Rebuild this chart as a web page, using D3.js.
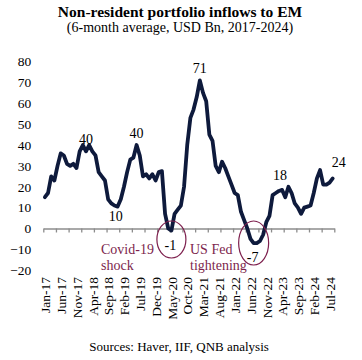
<!DOCTYPE html>
<html>
<head>
<meta charset="utf-8">
<script src="https://cdn.jsdelivr.net/npm/d3@7"></script>
<style>
  body { margin: 0; background: #fff; }
  svg text { font-family: "Liberation Serif", "Times New Roman", serif; }
</style>
</head>
<body>
<div id="chart"></div>
<script>
// monthly values, Jan-17 .. Aug-24 (USD Bn, 6-month avg)
var inflows = [
  15, 17, 25, 23, 30, 36, 35, 31, 30, 31, 29, 37,
  40, 37, 40, 37, 35, 27, 25, 23, 14, 12, 11, 10.5,
  14, 20, 27, 33, 34, 40, 35, 25, 26, 24, 26, 23,
  27, 27.5, 7, 0, -1, 7, 9, 11, 20, 40, 53, 57,
  63, 71, 65, 61, 45, 42, 30, 27, 32, 29, 25, 21,
  17, 16, 8, 4, 0, -5, -7, -7, -6, -3, 3, 6,
  16, 17, 18, 18.5, 15, 20, 17, 12, 10, 7, 10, 10.5,
  11, 17, 24, 28, 21, 21, 22, 24
];
var xLabels = ["Jan-17", "Jun-17", "Nov-17", "Apr-18", "Sep-18", "Feb-19", "Jul-19",
  "Dec-19", "May-20", "Oct-20", "Mar-21", "Aug-21", "Jan-22", "Jun-22", "Nov-22",
  "Apr-23", "Sep-23", "Feb-24", "Jul-24"];
var yTicks = [-20, -10, 0, 10, 20, 30, 40, 50, 60, 70, 80];
// labelled points: month index, value text
var callouts = [
  { i: 13, text: "40" },
  { i: 23, text: "10" },
  { i: 29, text: "40" },
  { i: 49, text: "71" },
  { i: 74, text: "18" },
  { i: 91, text: "24" }
];

var width = 362, height = 360;
var svg = d3.select("#chart").append("svg")
    .attr("width", width)
    .attr("height", height);

var x = d3.scaleLinear().domain([0, inflows.length]).range([43.3, 334.3]);
var y = d3.scaleLinear().domain([-20, 80]).range([270.2, 61.6]);

// titles
svg.append("text")
    .attr("x", 180).attr("y", 16.5)
    .attr("text-anchor", "middle")
    .style("font-size", "15.5px").style("font-weight", "bold")
    .text("Non-resident portfolio inflows to EM");
svg.append("text")
    .attr("x", 180).attr("y", 31.5)
    .attr("text-anchor", "middle")
    .style("font-size", "14px")
    .text("(6-month average, USD Bn, 2017-2024)");

// y axis labels
var yAxis = svg.append("g")
    .attr("transform", "translate(43.3,0)")
    .call(d3.axisLeft(y).tickValues(yTicks).tickSize(0).tickPadding(12));
yAxis.select(".domain").remove();
yAxis.selectAll("text").style("font-size", "13.5px").attr("fill", "#000");

// x axis at zero
var xAxis = svg.append("g")
    .attr("transform", "translate(0," + y(0) + ")")
    .call(d3.axisBottom(x)
      .tickValues(d3.range(0, inflows.length + 1, 4))
      .tickFormat("")
      .tickSize(4)
      .tickSizeOuter(0));
xAxis.select(".domain").attr("stroke", "#8c8c8c").attr("stroke-width", 1.3);
xAxis.selectAll(".tick line").attr("stroke", "#8c8c8c").attr("stroke-width", 1.3);

// rotated month labels
var labelAxis = svg.append("g")
    .attr("transform", "translate(0,277)")
    .call(d3.axisBottom(x)
      .tickValues(xLabels.map(function(d, k) { return k * 5 + 0.5; }))
      .tickFormat(function(d, k) { return xLabels[k]; })
      .tickSize(0));
labelAxis.select(".domain").remove();
labelAxis.selectAll("text")
    .style("font-size", "13.5px")
    .attr("fill", "#000")
    .attr("text-anchor", "end")
    .attr("transform", "rotate(-90)")
    .attr("x", 0)
    .attr("y", 0)
    .attr("dx", 0)
    .attr("dy", "0.35em");

// line
var line = d3.line()
    .x(function(d, i) { return x(i + 0.5); })
    .y(function(d) { return y(d); })
    .curve(d3.curveLinear);

svg.append("path")
    .datum(inflows)
    .attr("fill", "none")
    .attr("stroke", "#0e1a3c")
    .attr("stroke-width", 3.8)
    .attr("stroke-linejoin", "round")
    .attr("stroke-linecap", "round")
    .attr("d", line);

// value callouts
var calloutOffsets = { "13": [0, -7], "23": [-2, 14], "29": [0, -7], "49": [0, -7], "74": [1, -11], "91": [6, -11] };
callouts.forEach(function(c) {
  var off = calloutOffsets[c.i];
  svg.append("text")
      .attr("x", x(c.i + 0.5) + off[0])
      .attr("y", y(inflows[c.i]) + off[1])
      .attr("text-anchor", "middle")
      .style("font-size", "14px")
      .attr("fill", "#000")
      .text(c.text);
});

// circled troughs
var maroon = "#7d1f4d";
svg.append("ellipse")
    .attr("cx", x(40.5)).attr("cy", 239.5)
    .attr("rx", 14.5).attr("ry", 18.5)
    .attr("fill", "none").attr("stroke", maroon).attr("stroke-width", 1.2);
svg.append("text")
    .attr("x", x(40.5) - 1).attr("y", 250)
    .attr("text-anchor", "middle")
    .style("font-size", "14px")
    .text("-1");
svg.append("ellipse")
    .attr("cx", x(66.5)).attr("cy", 243)
    .attr("rx", 15).attr("ry", 22)
    .attr("fill", "none").attr("stroke", maroon).attr("stroke-width", 1.2);
svg.append("text")
    .attr("x", x(66.5) - 1).attr("y", 262)
    .attr("text-anchor", "middle")
    .style("font-size", "14px")
    .text("-7");

// event notes
svg.append("text").attr("x", 101).attr("y", 254)
    .style("font-size", "14px").attr("fill", maroon).text("Covid-19");
svg.append("text").attr("x", 101).attr("y", 270)
    .style("font-size", "14px").attr("fill", maroon).text("shock");
svg.append("text").attr("x", 190).attr("y", 254)
    .style("font-size", "14px").attr("fill", maroon).text("US Fed");
svg.append("text").attr("x", 190).attr("y", 270)
    .style("font-size", "14px").attr("fill", maroon).text("tightening");

// source
svg.append("text")
    .attr("x", 179).attr("y", 351)
    .attr("text-anchor", "middle")
    .style("font-size", "13px")
    .text("Sources: Haver, IIF, QNB analysis");
</script>
</body>
</html>
